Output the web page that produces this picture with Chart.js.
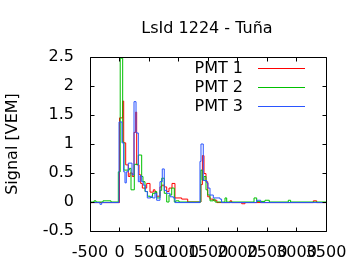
<!DOCTYPE html>
<html><head><meta charset="utf-8">
<script src="https://cdn.jsdelivr.net/npm/chart.js@4/dist/chart.umd.min.js"></script>
<style>html,body{margin:0;padding:0;background:#fff}</style>
</head><body>
<canvas id="c" width="360" height="270"></canvas>
<script>
const chartTitle = 'LsId 1224 - Tuña';
const yAxisTitle = 'Signal [VEM]';
const seriesNames = ['PMT 1', 'PMT 2', 'PMT 3'];
const xTickValues = [-500, 0, 500, 1000, 1500, 2000, 2500, 3000, 3500];
const xTickLabels = ['-500', '0', '500', '1000', '1500', '2000', '2500', '3000', '3500'];
const yTickValues = [-0.5, 0, 0.5, 1, 1.5, 2, 2.5];
const yTickLabels = ['-0.5', '0', '0.5', '1', '1.5', '2', '2.5'];

// PMT 1 (step start time, signal)
const pmt1Time = [-500, -483, 0, 54, 71, 105, 149, 178, 217, 246, 274, 291, 331, 359, 387, 461, 517, 573, 602, 630, 686, 715, 759, 800, 839, 890, 940, 1054, 1156, 1380, 1405, 1432, 1466, 1495, 1534, 1585, 1650, 1873, 1902, 2071, 2127, 3285, 3342, 3500];
const pmt1Signal = [-0.02, -0.01, 1.45, 1.74, 1.02, 0.64, 0.44, 0.5, 0.44, 1.2, 1.55, 0.64, 0.47, 0.32, 0.24, 0.32, 0.17, 0.21, 0.17, 0.1, 0.26, 0.29, 0.26, 0.18, 0.24, 0.32, 0.07, 0.05, 0.0, 0.3, 0.8, 0.49, 0.35, 0.09, 0.05, 0.03, -0.01, 0.02, -0.01, -0.03, -0.01, 0.02, -0.01, -0.01];

// PMT 2
const pmt2Time = [-500, -432, -398, -280, -144, -20, 12, 54, 76, 166, 195, 251, 319, 376, 398, 432, 475, 517, 560, 602, 630, 686, 715, 759, 800, 839, 885, 929, 953, 1009, 1378, 1400, 1432, 1466, 1495, 1534, 1590, 1619, 1788, 1817, 2280, 2325, 2466, 2539, 2861, 2900, 3500];
const pmt2Signal = [0, 0.02, 0, 0.02, 0, 0.52, 2.48, 1.03, 0.55, 0.58, 0.21, 0.65, 0.81, 0.44, 0.35, 0.18, 0.1, 0.08, 0.15, 0.18, 0.07, 0.2, 0.41, 0.15, 0.0, 0.12, 0.24, 0.0, 0.02, 0, 0.55, 0.38, 0.44, 0.21, 0.12, 0.02, 0.05, 0, 0.07, 0, 0.07, 0.01, 0.03, 0, 0.03, 0, 0];

// PMT 3
const pmt3Time = [-500, -331, -302, -8, 42, 71, 93, 115, 149, 212, 246, 280, 319, 347, 376, 403, 437, 471, 529, 560, 602, 630, 686, 725, 759, 800, 856, 912, 941, 1364, 1381, 1420, 1478, 1500, 1534, 1590, 1703, 1730, 2325, 2393, 3500];
const pmt3Signal = [-0.01, -0.04, -0.01, 1.38, 1.02, 0.52, 0.33, 0.52, 0.67, 0.47, 1.73, 1.19, 0.35, 0.45, 0.35, 0.29, 0.18, 0.07, 0.1, 0.07, 0.15, 0.03, 0.35, 0.57, 0.2, 0.15, 0.09, 0.07, -0.01, 0.7, 1.0, 0.37, 0.33, 0.24, 0.12, 0.07, 0.05, -0.01, 0.03, -0.01, -0.01];

const seriesColors = ['#ff0000', '#00c000', '#2a55ff'];
const FONT = '"DejaVu Sans", sans-serif';

function pts(t, v) { return t.map((x, i) => ({ x: x, y: v[i] })); }

const frame = {
  id: 'frame',
  afterDatasetsDraw(chart) {
    const ctx = chart.ctx, a = chart.chartArea;
    const xs = chart.scales.x, ys = chart.scales.y;
    const L = Math.floor(a.left) + 0.5, R = Math.floor(a.right) + 0.5;
    const T = Math.floor(a.top) + 0.5, B = Math.floor(a.bottom) + 0.5;
    ctx.save();
    ctx.strokeStyle = '#000';
    ctx.lineWidth = 1;
    ctx.beginPath();
    ctx.rect(L, T, R - L, B - T);
    const tl = 4;
    xTickValues.forEach(v => {
      const p = Math.floor(xs.getPixelForValue(v)) + 0.5;
      ctx.moveTo(p, B); ctx.lineTo(p, B - tl);
      ctx.moveTo(p, T); ctx.lineTo(p, T + tl);
    });
    yTickValues.forEach(v => {
      const p = Math.floor(ys.getPixelForValue(v)) + 0.5;
      ctx.moveTo(L, p); ctx.lineTo(L + tl, p);
      ctx.moveTo(R, p); ctx.lineTo(R - tl, p);
    });
    ctx.stroke();
    // title
    ctx.fillStyle = '#000';
    ctx.font = '16px ' + FONT;
    ctx.textAlign = 'center';
    ctx.textBaseline = 'alphabetic';
    ctx.fillText(chartTitle, 207, 33);
    // legend
    chart.data.datasets.forEach((ds, i) => {
      ctx.textAlign = 'right';
      ctx.fillStyle = '#000';
      ctx.fillText(ds.label, 243, 73 + 19 * i);
      ctx.strokeStyle = ds.borderColor;
      ctx.beginPath();
      ctx.moveTo(258, 68.5 + 19 * i);
      ctx.lineTo(305, 68.5 + 19 * i);
      ctx.stroke();
    });
    ctx.restore();
  }
};

new Chart(document.getElementById('c'), {
  type: 'line',
  data: {
    datasets: [
      { label: seriesNames[0], data: pts(pmt1Time, pmt1Signal), borderColor: seriesColors[0], order: 2 },
      { label: seriesNames[1], data: pts(pmt2Time, pmt2Signal), borderColor: seriesColors[1], order: 1 },
      { label: seriesNames[2], data: pts(pmt3Time, pmt3Signal), borderColor: seriesColors[2], order: 0 }
    ].map(d => Object.assign(d, { borderWidth: 1, pointRadius: 0, stepped: 'before', fill: false, tension: 0 }))
  },
  options: {
    responsive: false,
    devicePixelRatio: 1,
    animation: false,
    layout: { padding: { top: 57, right: 34, left: 0, bottom: 0 } },
    plugins: { legend: { display: false }, title: { display: false }, tooltip: { enabled: false } },
    scales: {
      x: {
        type: 'linear', min: -500, max: 3500,
        afterBuildTicks: s => { s.ticks = xTickValues.map(v => ({ value: v })); },
        afterFit: s => { s.height = 39; },
        grid: { display: false, drawTicks: false },
        border: { display: false },
        ticks: {
          autoSkip: false, maxRotation: 0, minRotation: 0, padding: 12, color: '#000',
          font: { family: FONT, size: 16 },
          callback: (v, i) => xTickLabels[i]
        }
      },
      y: {
        type: 'linear', min: -0.5, max: 2.5,
        afterBuildTicks: s => { s.ticks = yTickValues.map(v => ({ value: v })); },
        afterFit: s => { s.width = 90; },
        grid: { display: false, drawTicks: false },
        border: { display: false },
        title: { display: true, text: yAxisTitle, color: '#000', font: { family: FONT, size: 16 }, padding: { top: 3, bottom: 0 } },
        ticks: {
          padding: 16, color: '#000',
          font: { family: FONT, size: 16 },
          callback: (v, i) => yTickLabels[i]
        }
      }
    }
  },
  plugins: [frame]
});
</script>
</body></html>
